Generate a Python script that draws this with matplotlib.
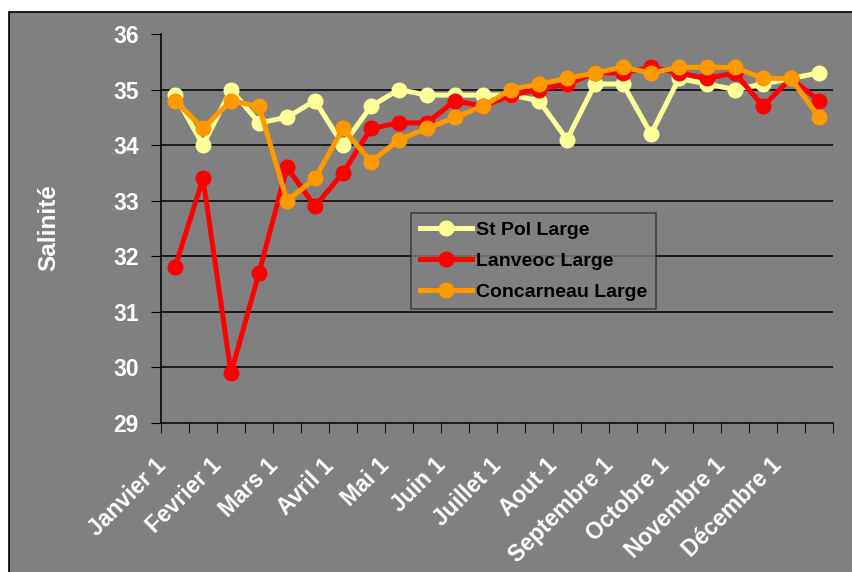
import matplotlib
matplotlib.use("Agg")
import matplotlib.pyplot as plt
from matplotlib.patches import Rectangle
from matplotlib.transforms import ScaledTranslation
import numpy as np

plt.rcParams['font.family'] = ['Liberation Sans', 'DejaVu Sans']
plt.rcParams['font.weight'] = 'bold'

months = ["Janvier 1", "Fevrier 1", "Mars 1", "Avril 1", "Mai 1", "Juin 1",
          "Juillet 1", "Aout 1", "Septembre 1", "Octobre 1", "Novembre 1", "Décembre 1"]

st_pol = [34.9, 34.0, 35.0, 34.4, 34.5, 34.8, 34.0, 34.7, 35.0, 34.9, 34.9, 34.9,
          34.9, 34.8, 34.1, 35.1, 35.1, 34.2, 35.2, 35.1, 35.0, 35.1, 35.2, 35.3]
lanveoc = [31.8, 33.4, 29.9, 31.7, 33.6, 32.9, 33.5, 34.3, 34.4, 34.4, 34.8, 34.7,
           34.9, 35.0, 35.1, 35.3, 35.3, 35.4, 35.3, 35.2, 35.3, 34.7, 35.2, 34.8]
concarneau = [34.8, 34.3, 34.8, 34.7, 33.0, 33.4, 34.3, 33.7, 34.1, 34.3, 34.5, 34.7,
              35.0, 35.1, 35.2, 35.3, 35.4, 35.3, 35.4, 35.4, 35.4, 35.2, 35.2, 34.5]

series = [("St Pol Large", st_pol, "#FFFF99"),
          ("Lanveoc Large", lanveoc, "#FF0000"),
          ("Concarneau Large", concarneau, "#FF9900")]

W, H = 852, 572
fig = plt.figure(figsize=(W / 100, H / 100), dpi=100)
fig.patch.set_facecolor("white")

# grey chart frame
fig.patches.append(Rectangle((9 / W, -0.01), 1.0, (H - 12) / H + 0.01,
                             transform=fig.transFigure, facecolor="#808080",
                             edgecolor="black", linewidth=1.2, zorder=-5))

ax = fig.add_axes([161 / W, (H - 423) / H, (833 - 161) / W, (423 - 34) / H])
ax.set_zorder(2)
ax.set_facecolor("#808080")

x = np.arange(len(st_pol))
for name, vals, col in series:
    ax.plot(x, vals, color=col, lw=3.6, marker="o", markersize=10.5,
            label=name, zorder=3, clip_on=False)

ax.set_xlim(-0.5, len(st_pol) - 0.5)
ax.set_ylim(29, 36)
ax.set_yticks(range(29, 37))
ax.set_yticklabels([str(v) for v in range(29, 37)])

for v in range(30, 36):
    ax.axhline(v, color="black", lw=1.1, zorder=1)

ax.set_xticks(np.arange(0, len(st_pol), 2))
ax.set_xticklabels(months, rotation=45, ha="right", va="top",
                   rotation_mode="anchor")
ax.set_xticks(np.arange(-0.5, len(st_pol), 1), minor=True)
ax.tick_params(axis="x", which="major", length=0, pad=0, colors="white",
               labelsize=16.5)
ax.tick_params(axis="x", which="minor", length=7, direction="out", color="black")
ax.tick_params(axis="y", length=7.5, direction="out", color="black", colors="white",
               labelsize=16.5, pad=8.5)
for lbl in ax.get_xticklabels() + ax.get_yticklabels():
    lbl.set_fontweight("bold")
    lbl.set_color("white")

# shift month labels down-left of their points
offset = ScaledTranslation(-21 / 100, -31 / 100, fig.dpi_scale_trans)
for lbl in ax.get_xticklabels():
    lbl.set_transform(lbl.get_transform() + offset)

for s in ["top", "right"]:
    ax.spines[s].set_visible(False)
for s in ["left", "bottom"]:
    ax.spines[s].set_color("black")
    ax.spines[s].set_linewidth(1.1)

fig.text(49 / W, 1 - 228 / H, "Salinité", rotation=90, color="white",
         fontsize=17.5, fontweight="bold", ha="center", va="center")

leg = ax.legend(loc="upper left", bbox_to_anchor=(0.372, 0.541),
                frameon=True, fancybox=False, fontsize=14, handlelength=2.7,
                borderpad=0.45, labelspacing=0.68, handletextpad=0.2,
                borderaxespad=0)
leg.get_frame().set_facecolor("#808080")
leg.get_frame().set_edgecolor("#333333")
leg.get_frame().set_linewidth(1.2)
for t in leg.get_texts():
    t.set_color("black")
    t.set_fontweight("bold")

fig.savefig("out.png", dpi=100, facecolor=fig.get_facecolor())
